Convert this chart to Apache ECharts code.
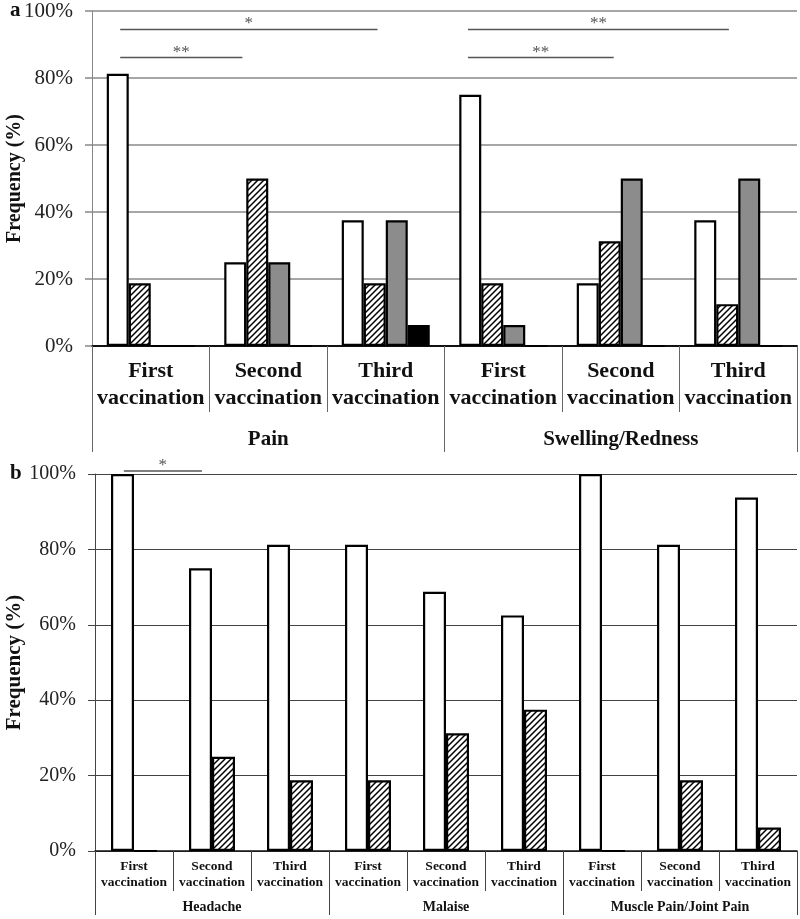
<!DOCTYPE html>
<html>
<head>
<meta charset="utf-8">
<script src="https://cdn.jsdelivr.net/npm/echarts@6/dist/echarts.min.js"></script>
<style>
html,body{margin:0;padding:0;background:#fff;}
#chart{width:800px;height:919px;}
</style>
</head>
<body>
<div id="chart"></div>
<script>
// ---------- DATA ----------
var catsA = ['First\nvaccination','Second\nvaccination','Third\nvaccination','First\nvaccination','Second\nvaccination','Third\nvaccination'];
var groupsA = ['Pain','Swelling/Redness'];
var whiteA  = [81.25, 25, 37.5, 75, 18.75, 37.5];
var hatchA  = [18.75, 50, 18.75, 18.75, 31.25, 12.5];
var grayA   = [0, 25, 37.5, 6.25, 50, 50];
var blackA  = [0, 0, 6.25, 0, 0, 0];

var catsB = ['First\nvaccination','Second\nvaccination','Third\nvaccination','First\nvaccination','Second\nvaccination','Third\nvaccination','First\nvaccination','Second\nvaccination','Third\nvaccination'];
var groupsB = ['Headache','Malaise','Muscle Pain/Joint Pain'];
var whiteB = [100, 75, 81.25, 81.25, 68.75, 62.5, 100, 81.25, 93.75];
var hatchB = [0, 25, 18.75, 18.75, 31.25, 37.5, 0, 18.75, 6.25];

var yTicks = [0, 20, 40, 60, 80, 100];
// significance brackets: from/to in category units (0 = left edge of first category), y in %
var sigA = [
  {from: 0.24, to: 2.43, y: 94.5, label: '*'},
  {from: 0.24, to: 1.28, y: 86.1, label: '**'},
  {from: 3.2, to: 5.42, y: 94.5, label: '**'},
  {from: 3.2, to: 4.44, y: 86.1, label: '**'}
];
var sigB = [
  {from: 0.37, to: 1.37, y: 100.8, label: '*'}
];

// ---------- STYLE ----------
var FONT = '"Liberation Serif", "Times New Roman", serif';
function hatchPattern() {
  var c = document.createElement('canvas');
  c.width = 6; c.height = 6;
  var g = c.getContext('2d');
  g.fillStyle = '#fff'; g.fillRect(0, 0, 6, 6);
  g.strokeStyle = '#000'; g.lineWidth = 1.5;
  g.beginPath();
  g.moveTo(0, 6); g.lineTo(6, 0);
  g.moveTo(-1, 1); g.lineTo(1, -1);
  g.moveTo(5, 7); g.lineTo(7, 5);
  g.stroke();
  return {image: c, repeat: 'repeat'};
}
var hatch = hatchPattern();

var chart = echarts.init(document.getElementById('chart'), null, {renderer: 'canvas'});

function barSeries(name, data, xi, yi, color, bw) {
  return {
    name: name, type: 'bar', data: data, xAxisIndex: xi, yAxisIndex: yi,
    barWidth: bw, barGap: '0%',
    itemStyle: {color: color, borderColor: '#000', borderWidth: 2.2},
    emphasis: {disabled: true}, animation: false
  };
}

function yAxisDef(gi, gridColor, gridW, fs, nameFs, nameGap) {
  return {
    type: 'value', gridIndex: gi, min: 0, max: 100, interval: 20,
    axisLine: {show: true, lineStyle: {color: gridColor, width: 1}},
    axisTick: {show: true, length: 7, lineStyle: {color: gridColor, width: gridW}},
    splitLine: {show: true, lineStyle: {color: gridColor, width: gridW}},
    axisLabel: {formatter: '{value}%', fontFamily: FONT, fontSize: fs, color: '#222', margin: 19},
    name: 'Frequency (%)', nameLocation: 'middle', nameGap: nameGap, nameMoveOverlap: false,
    nameTextStyle: {fontFamily: FONT, fontWeight: 'bold', fontSize: nameFs, color: '#111'}
  };
}

var option = {
  animation: false,
  backgroundColor: '#fff',
  grid: [
    {left: 92, right: 3, top: 11, height: 335, containLabel: false, outerBoundsMode: 'none'},
    {left: 95, right: 3, top: 474, height: 377, containLabel: false, outerBoundsMode: 'none'}
  ],
  xAxis: [
    {type: 'category', gridIndex: 0, data: catsA,
     axisLine: {show: true, lineStyle: {color: '#111', width: 2}},
     axisTick: {show: true, interval: 0, length: 66, lineStyle: {color: '#666', width: 1}},
     axisLabel: {interval: 0, margin: 12, fontFamily: FONT, fontWeight: 'bold', fontSize: 22, lineHeight: 27, color: '#111'}},
    {type: 'category', gridIndex: 0, data: groupsA, position: 'bottom',
     axisLine: {show: false},
     axisTick: {show: true, interval: 0, length: 106, lineStyle: {color: '#666', width: 1}},
     axisLabel: {interval: 0, margin: 83, fontFamily: FONT, fontWeight: 'bold', fontSize: 21, color: '#111'}},
    {type: 'category', gridIndex: 1, data: catsB,
     axisLine: {show: true, lineStyle: {color: '#111', width: 1.5}},
     axisTick: {show: true, interval: 0, length: 40, lineStyle: {color: '#444', width: 1}},
     axisLabel: {interval: 0, margin: 8, fontFamily: FONT, fontWeight: 'bold', fontSize: 13.5, lineHeight: 16, color: '#111'}},
    {type: 'category', gridIndex: 1, data: groupsB, position: 'bottom',
     axisLine: {show: false},
     axisTick: {show: true, interval: 0, length: 64, lineStyle: {color: '#444', width: 1}},
     axisLabel: {interval: 0, margin: 49, fontFamily: FONT, fontWeight: 'bold', fontSize: 14, color: '#111'}}
  ],
  yAxis: [
    yAxisDef(0, '#888', 1.5, 21, 20, 67),
    yAxisDef(1, '#444', 1, 20, 21, 70)
  ],
  series: [
    barSeries('A1', whiteA, 0, 0, '#fff', 22),
    barSeries('A2', hatchA, 0, 0, hatch, 22),
    barSeries('A3', grayA, 0, 0, '#8c8c8c', 22),
    barSeries('A4', blackA, 0, 0, '#000', 22),
    barSeries('B1', whiteB, 2, 1, '#fff', 23),
    barSeries('B2', hatchB, 2, 1, hatch, 23)
  ]
};
chart.setOption(option);

// significance brackets & panel letters
function bracketGraphics(list, xi, yi) {
  var c0 = chart.convertToPixel({xAxisIndex: xi}, 0);
  var c1 = chart.convertToPixel({xAxisIndex: xi}, 1);
  var w = c1 - c0;
  var out = [];
  list.forEach(function (s) {
    var x1 = c0 + (s.from - 0.5) * w;
    var x2 = c0 + (s.to - 0.5) * w;
    var y = chart.convertToPixel({yAxisIndex: yi}, s.y);
    out.push({type: 'line', shape: {x1: x1, y1: y, x2: x2, y2: y}, style: {stroke: '#555', lineWidth: 1.5}, silent: true});
    out.push({type: 'text', x: (x1 + x2) / 2, y: y + 3, style: {text: s.label, fill: '#555', font: '17px ' + FONT, textAlign: 'center', textVerticalAlign: 'bottom'}, silent: true});
  });
  return out;
}
var gfx = [].concat(bracketGraphics(sigA, 0, 0), bracketGraphics(sigB, 2, 1));
var y100a = chart.convertToPixel({yAxisIndex: 0}, 100);
var y100b = chart.convertToPixel({yAxisIndex: 1}, 100);
gfx.push({type: 'text', x: 10, y: y100a, style: {text: 'a', fill: '#111', font: 'bold 21px ' + FONT, textVerticalAlign: 'middle'}});
gfx.push({type: 'text', x: 10, y: y100b, style: {text: 'b', fill: '#111', font: 'bold 21px ' + FONT, textVerticalAlign: 'middle'}});
chart.setOption({graphic: gfx});
</script>
</body>
</html>
